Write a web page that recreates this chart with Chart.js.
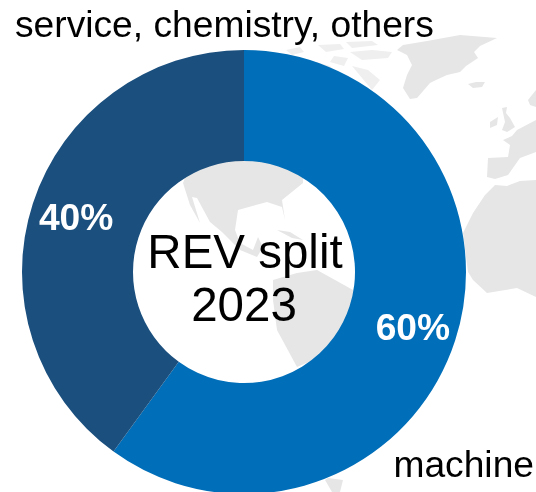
<!DOCTYPE html>
<html>
<head>
<meta charset="utf-8">
<title>REV split 2023</title>
<script src="https://cdn.jsdelivr.net/npm/chart.js@4"></script>
<style>
  html, body { margin: 0; padding: 0; background: #fff; overflow: hidden; }
  #wrap { position: relative; width: 536px; height: 492px; overflow: hidden; }
  #map, #revChart { position: absolute; left: 0; top: 0; }
</style>
</head>
<body>
<div id="wrap">
  <!-- faint world map behind the ring, decoration only -->
  <svg id="map" width="536" height="492" viewBox="0 0 536 492">
    <g fill="#e6e6e6">
      <polygon points="397,50 403,45 427,41 460,35 497,38 480,46 474,52 478,58 466,66 460,72 447,75 436,80 430,83 417,98 410,99 403,88 407,75 412,65 407,55"/>
      <polygon points="468,84 476,82 485,82 482,87 473,88"/>
      <polygon points="502,108 507,107 506,113 510,118 515,127 507,132 502,130 505,122"/>
      <polygon points="490,122 498,117 497,125 490,128"/>
      <polygon points="528,100 536,90 536,107 530,105"/>
      <polygon points="503,140 512,136 517,130 536,120 536,152 520,158 508,175 495,179 487,177 488,158 508,157 510,145"/>
      <polygon points="495,185 507,186 520,181 536,180 536,297 517,288 487,293 473,280 468,272 463,233 473,213 485,195"/>
      <polygon points="183,183 200,140 303,140 303,183 282,200 285,220 282,207 267,202 238,210 235,230 240,243 253,250 258,237 263,247 257,257 240,250 222,232 210,222 197,198 192,197 200,223 190,205"/>
      <polygon points="277,230 290,232 303,240 292,238"/>
      <polygon points="273,280 297,273 317,270 353,290 360,340 297,367 277,330 273,300"/>
      <polygon points="328,478 343,480 340,492 332,492 325,480"/>
    </g>
    <g fill="#efefef">
      <polygon points="286,50 300,47 304,52 292,55"/>
      <polygon points="318,45 340,44 344,49 326,52"/>
      <polygon points="346,42 372,41 378,45 352,48"/>
      <polygon points="350,52 372,50 392,52 388,58 362,60"/>
      <polygon points="334,56 348,58 344,66 330,62"/>
      <polygon points="352,66 368,70 380,80 372,90 362,78"/>
      <polygon points="316,62 330,66 342,78 326,72"/>
    </g>
  </svg>
  <canvas id="revChart" width="536" height="494"></canvas>
</div>
<script>
  const categories = ['machine', 'service, chemistry, others'];
  const shareValues = [60, 40];
  const shareLabels = ['60%', '40%'];
  const centerLines = ['REV split', '2023'];
  const sliceColors = ['#006EB8', '#1A4F7E'];

  const textFont = '"Liberation Sans", Arial, sans-serif';

  // percent labels sit a bit outside the middle of the ring, names go in the corners
  const ringText = {
    id: 'ringText',
    afterDatasetsDraw(chart) {
      const ctx = chart.ctx;
      const arcs = chart.getDatasetMeta(0).data;
      ctx.save();

      ctx.font = 'bold 37.2px ' + textFont;
      ctx.fillStyle = '#fff';
      ctx.textAlign = 'center';
      ctx.textBaseline = 'alphabetic';
      arcs.forEach(function (arc, i) {
        const mid = (arc.startAngle + arc.endAngle) / 2;
        const r = arc.innerRadius + (arc.outerRadius - arc.innerRadius) * 0.595;
        ctx.fillText(shareLabels[i], arc.x + Math.cos(mid) * r + 0.5, arc.y + Math.sin(mid) * r + 13);
      });

      ctx.fillStyle = '#000';
      ctx.font = '47.5px ' + textFont;
      ctx.fillText(centerLines[0], arcs[0].x + 1, 268);
      ctx.fillText(centerLines[1], arcs[0].x, 321);

      ctx.font = '37.2px ' + textFont;
      ctx.textAlign = 'left';
      ctx.fillText(categories[1], 15, 37);
      ctx.textAlign = 'right';
      ctx.fillText(categories[0], 534, 477);
      ctx.restore();
    }
  };

  new Chart(document.getElementById('revChart'), {
    type: 'doughnut',
    data: {
      labels: categories,
      datasets: [{
        data: shareValues,
        backgroundColor: sliceColors,
        borderWidth: 0
      }]
    },
    options: {
      responsive: false,
      animation: false,
      cutout: '50%',
      layout: { padding: { left: 22, right: 70, top: 50, bottom: 0 } },
      plugins: {
        legend: { display: false },
        tooltip: { enabled: false }
      }
    },
    plugins: [ringText]
  });
</script>
</body>
</html>
